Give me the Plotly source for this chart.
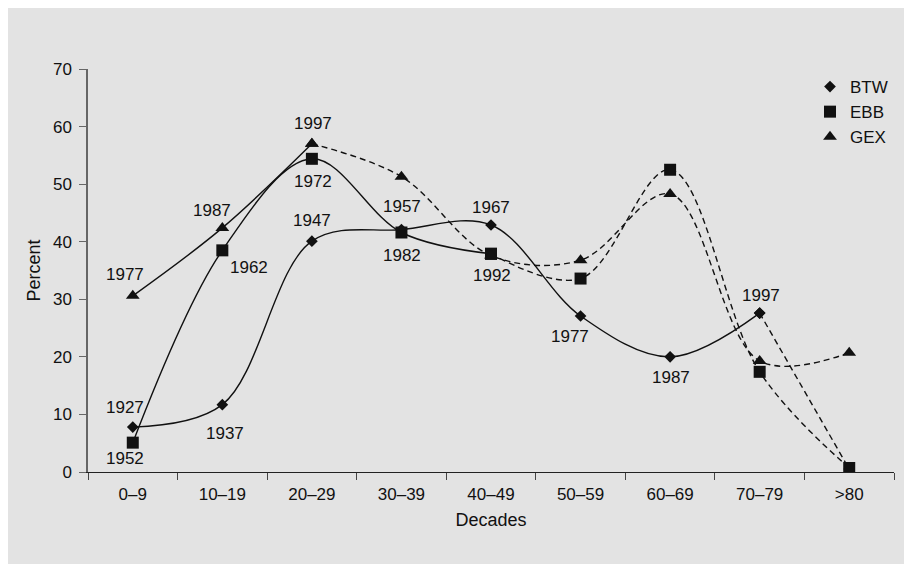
import plotly.graph_objects as go

# ---------------- data ----------------
categories = ["0–9", "10–19", "20–29", "30–39", "40–49", "50–59", "60–69", "70–79", ">80"]
series_names = ["BTW", "EBB", "GEX"]
btw = [7.8, 11.7, 40.1, 42.1, 42.9, 27.1, 20.0, 27.6, 0.5]
ebb = [5.1, 38.5, 54.4, 41.6, 37.9, 33.6, 52.5, 17.4, 0.7]
gex = [30.6, 42.4, 57.0, 51.3, 37.6, 36.8, 48.3, 19.3, 20.7]
btw_years = ["1927", "1937", "1947", "1957", "1967", "1977", "1987", "1997"]
ebb_years = ["1952", "1962", "1972", "1982", "1992"]
gex_years = ["1977", "1987", "1997"]
y_ticks = [0, 10, 20, 30, 40, 50, 60, 70]

# ---------------- styles ----------------
FONT = "Liberation Sans, Arial, Helvetica, sans-serif"
INK = "#111111"
BG = "#e3e3e3"
symbols = {"BTW": "diamond", "EBB": "square", "GEX": "triangle-up"}
msizes = {"BTW": 9, "EBB": 12, "GEX": 12}
# index where each series switches from solid to dashed
dash_from = {"BTW": 7, "EBB": 4, "GEX": 2}
# label offsets in pixels (dx, dy up)
label_offsets = {
    "BTW": [(-8, 20), (3, -29), (0, 21), (1, 23), (0, 18), (-11, -21), (1, -21), (1, 18)],
    "EBB": [(-8, -16), (27, -17), (1, -23), (1, -23), (1, -22)],
    "GEX": [(-8, 21), (-10, 17), (1, 20)],
}

values = {"BTW": btw, "EBB": ebb, "GEX": gex}
years = {"BTW": btw_years, "EBB": ebb_years, "GEX": gex_years}

fig = go.Figure()

for name in series_names:
    vals = values[name]
    k = dash_from[name]
    seg_solid = (categories[:k + 1], vals[:k + 1], "solid")
    seg_dash = (categories[k:], vals[k:], "6px,4px")
    for xs, ys, dash in (seg_dash, seg_solid):
        fig.add_trace(go.Scatter(
            x=xs, y=ys, mode="lines+markers",
            line=dict(color=INK, width=1.4, dash=dash, shape="spline", smoothing=1.0),
            marker=dict(symbol=symbols[name], size=msizes[name], color=INK),
            showlegend=False, hoverinfo="skip",
        ))

# legend entries (marker only)
for name in series_names:
    fig.add_trace(go.Scatter(
        x=[None], y=[None], mode="markers", name=name,
        marker=dict(symbol=symbols[name], size=msizes[name], color=INK),
    ))

# year labels
annotations = []
for name in series_names:
    for i, yr in enumerate(years[name]):
        dx, dy = label_offsets[name][i]
        annotations.append(dict(
            x=categories[i], y=values[name][i], text=yr, showarrow=False,
            xshift=dx, yshift=dy, font=dict(family=FONT, size=17, color=INK),
        ))

# figure sits at (8, 8) in the page (body margin); right/bottom overflow the window
W, H = 912, 564
L, R, T, B = 80, 26, 61, 100
pw, ph = W - L - R, H - T - B

def px_x(px):
    return (px - 8 - L) / pw

def px_y(py):
    return (H - B - (py - 8)) / ph

fig.update_layout(
    width=W, height=H,
    margin=dict(l=L, r=R, t=T, b=B),
    paper_bgcolor=BG,
    plot_bgcolor=BG,
    font=dict(family=FONT, size=17, color=INK),
    annotations=annotations,
    showlegend=True,
    legend=dict(x=px_x(810), y=px_y(69), xanchor="left", yanchor="top",
                bgcolor="rgba(0,0,0,0)", font=dict(family=FONT, size=17, color=INK),
                itemwidth=30, tracegroupgap=0),
    xaxis=dict(
        type="category", categoryorder="array", categoryarray=categories,
        range=[-0.5, 8.5], showgrid=False, zeroline=False,
        showline=True, linecolor="#222222", linewidth=1.2,
        ticks="outside", tickson="boundaries", ticklen=7, tickcolor="#444444", tickwidth=1,
        ticklabelstandoff=6,
        tickfont=dict(family=FONT, size=17, color=INK),
        title=dict(text="Decades", font=dict(family=FONT, size=18, color=INK), standoff=10),
        fixedrange=True,
    ),
    yaxis=dict(
        range=[0, 70], tickvals=y_ticks, showgrid=False, zeroline=False,
        showline=True, linecolor="#666666", linewidth=1.5,
        ticks="outside", ticklen=7, tickcolor="#666666", tickwidth=1,
        ticklabelstandoff=4,
        tickfont=dict(family=FONT, size=17, color=INK),
        title=dict(text="Percent", font=dict(family=FONT, size=18, color=INK), standoff=8),
        fixedrange=True,
    ),
)

fig.write_html("out.html")
